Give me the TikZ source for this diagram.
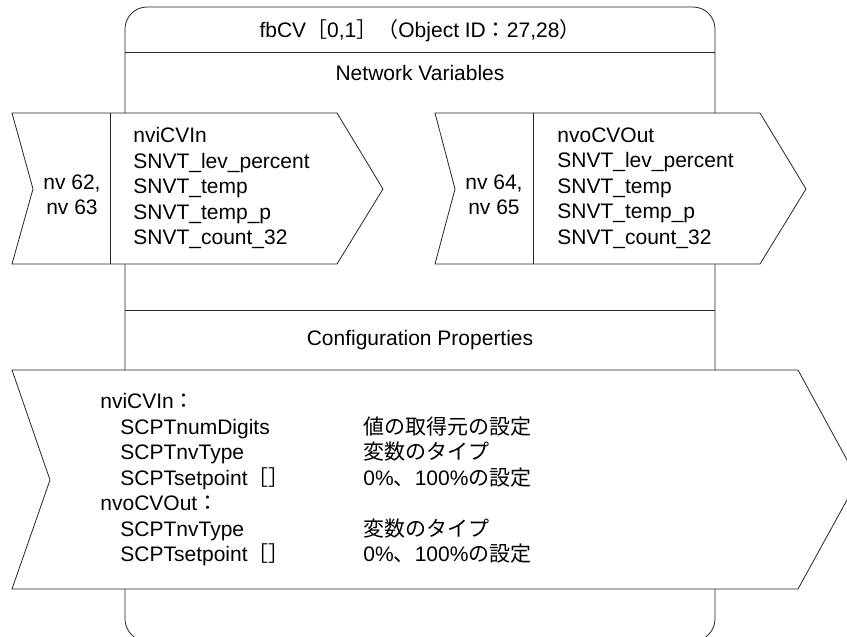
\documentclass[tikz,border=0pt]{standalone}
\usepackage{fontspec}
\setmainfont{Liberation Sans}
\newfontfamily\jpfont{Noto Sans CJK JP}
\newcommand{\jp}[1]{{\jpfont #1}}

\begin{document}
\begin{tikzpicture}[x=1pt, y=-1pt, line width=0.8pt,
		every node/.style={font=\fontsize{21}{25.5}\selectfont, inner sep=0pt},
		txt/.style={anchor=west, align=left},
		arrowbox/.style={draw=black!85, fill=white, line join=miter}]
	\useasboundingbox (0,0) rectangle (847,637);

	% function block
	\draw[draw=black!85, rounded corners=22pt] (125,641) rectangle (715,7);
	\draw[draw=black!85] (125,52) -- (715,52);
	\draw[draw=black!85] (125,310) -- (715,310);

	\node (title) at (420,31) {fbCV\jp{［}0,1\jp{］（}Object ID\jp{：}27,28\jp{）}};
	\node (nvhead) at (420,73) {Network Variables};
	\node (cphead) at (420,340) {Configuration Properties};

	% network variables
	\draw[arrowbox] (12,113) -- (337,113) -- (383,189) -- (337,264) -- (12,264) -- (33,189) -- cycle;
	\draw[draw=black!85] (110,113) -- (110,264);
	\draw[arrowbox] (435,113) -- (760,113) -- (806,189) -- (760,264) -- (435,264) -- (455,189) -- cycle;
	\draw[draw=black!85] (533,113) -- (533,264);

	\node[align=center] (inidx) at (72,195) {nv 62,\\nv 63};
	\node[txt] (invars) at (133,188) {nviCVIn\\SNVT\_lev\_percent\\SNVT\_temp\\SNVT\_temp\_p\\SNVT\_count\_32};
	\node[align=center] (outidx) at (494,195) {nv 64,\\nv 65};
	\node[txt] (outvars) at (557,188) {nvoCVOut\\SNVT\_lev\_percent\\SNVT\_temp\\SNVT\_temp\_p\\SNVT\_count\_32};

	% configuration properties
	\draw[arrowbox] (12,370) -- (798,370) -- (858,480) -- (798,589) -- (12,589) -- (50,480) -- cycle;

	\node[txt] (cplist) at (100,480) {\begin{tabular}{@{}p{263pt}@{}l@{}}
		nviCVIn\jp{：} & \\
		\hspace*{20pt}SCPTnumDigits & \jp{値の取得元の設定} \\
		\hspace*{20pt}SCPTnvType & \jp{変数のタイプ} \\
		\hspace*{20pt}SCPTsetpoint\jp{［］} & 0\%\jp{、}100\%\jp{の設定} \\
		nvoCVOut\jp{：} & \\
		\hspace*{20pt}SCPTnvType & \jp{変数のタイプ} \\
		\hspace*{20pt}SCPTsetpoint\jp{［］} & 0\%\jp{、}100\%\jp{の設定}
	\end{tabular}};
\end{tikzpicture}
\end{document}
